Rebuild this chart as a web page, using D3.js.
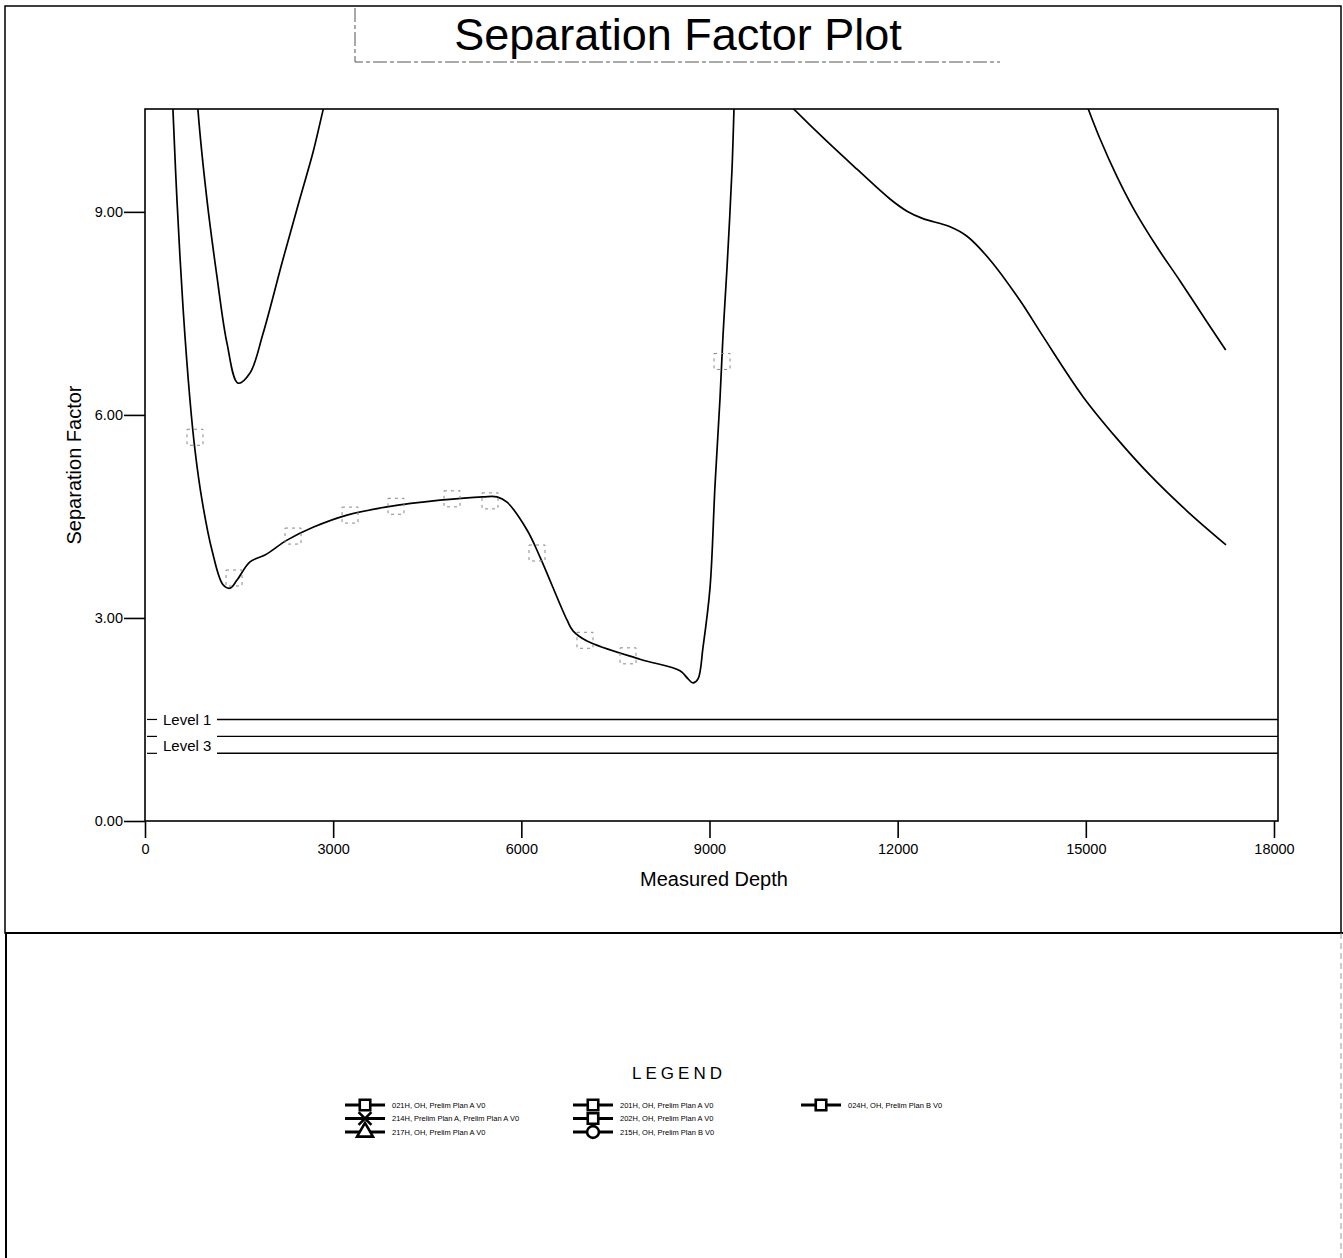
<!DOCTYPE html>
<html>
<head>
<meta charset="utf-8">
<script src="https://cdn.jsdelivr.net/npm/d3@7"></script>
<style>
  body { margin: 0; background: #fff; }
  svg { display: block; font-family: "Liberation Sans", Arial, sans-serif; }
</style>
</head>
<body>
<div id="chart"></div>
<script>
// Separation factor curves (measured depth, separation factor)
var depthA = [430, 446, 510, 606, 717, 797, 909, 1068, 1244, 1355, 1467, 1674, 1913, 2264, 2679, 3221, 3858, 4703, 5389, 5612, 5772, 6091, 6298, 6728, 6824, 7047, 7892, 8530, 8658, 8737, 8817, 8897, 9008, 9088, 9168, 9216, 9279, 9359, 9391, 9405];
var sfA    = [10.9, 10.5, 9.17, 7.59, 6.22, 5.48, 4.74, 4.00, 3.49, 3.44, 3.56, 3.83, 3.93, 4.15, 4.34, 4.52, 4.64, 4.74, 4.79, 4.79, 4.71, 4.30, 3.90, 2.97, 2.81, 2.66, 2.39, 2.22, 2.10, 2.04, 2.10, 2.57, 3.44, 4.96, 6.25, 7.18, 8.17, 9.63, 10.53, 10.9];

var depthB = [820, 845, 989, 1148, 1307, 1483, 1674, 1881, 2200, 2471, 2679, 2838, 2880];
var sfB    = [10.9, 10.5, 9.17, 8.04, 7.06, 6.47, 6.62, 7.20, 8.30, 9.20, 9.88, 10.5, 10.65];

var depthC = [14950, 15035, 15226, 15497, 15753, 16135, 16502, 16927, 17230];
var sfC    = [10.75, 10.53, 10.08, 9.52, 9.06, 8.48, 7.98, 7.38, 6.96];

var depthD = [10100, 10332, 10874, 11352, 11878, 12149, 12404, 12835, 13106, 13473, 13951, 14318, 14955, 15497, 16024, 16614, 17235];
var sfD    = [10.75, 10.53, 10.04, 9.63, 9.19, 9.01, 8.90, 8.78, 8.64, 8.29, 7.69, 7.16, 6.27, 5.65, 5.11, 4.58, 4.08];

// faint survey-point markers along the first curve
var markerDepth = [797, 1419, 2360, 3269, 4002, 4895, 5501, 6250, 7015, 7701, 9200];
var markerSF    = [5.67, 3.59, 4.21, 4.52, 4.65, 4.76, 4.73, 3.96, 2.67, 2.44, 6.79];

// warning levels
var levels = [1.5, 1.25, 1.0];
var levelLabels = ["Level 1", "", "Level 3"];

var xTicks = [0, 3000, 6000, 9000, 12000, 15000, 18000];
var yTicks = [0, 3, 6, 9];

var legendNames = [
  "021H, OH, Prelim Plan A V0",
  "214H, Prelim Plan A, Prelim Plan A V0",
  "217H, OH, Prelim Plan A V0",
  "201H, OH, Prelim Plan A V0",
  "202H, OH, Prelim Plan A V0",
  "215H, OH, Prelim Plan B V0",
  "024H, OH, Prelim Plan B V0"
];
var legendShapes = ["square", "cross", "triangle", "square", "square", "circle", "square"];

//Create chart space
var svgWidth = 1343;
var svgHeight = 1258;

var margin = { top: 109, right: 65, bottom: 437, left: 145 };
var width = svgWidth - margin.left - margin.right;
var height = svgHeight - margin.top - margin.bottom;

var svg = d3.select("#chart")
    .append("svg")
    .attr("width", svgWidth)
    .attr("height", svgHeight);

svg.append("rect")
    .attr("width", svgWidth)
    .attr("height", svgHeight)
    .attr("fill", "#fff");

// page frame
var page = svg.append("g").attr("stroke", "#000").attr("fill", "none");
page.append("rect")
    .attr("x", 5).attr("y", 6)
    .attr("width", 1336).attr("height", 927)
    .attr("stroke-width", 1.5);
page.append("line")
    .attr("x1", 5).attr("x2", 1343)
    .attr("y1", 933).attr("y2", 933)
    .attr("stroke-width", 2.2);
page.append("line")
    .attr("x1", 6).attr("x2", 6)
    .attr("y1", 933).attr("y2", 1258)
    .attr("stroke-width", 2);
page.append("line")
    .attr("x1", 1341).attr("x2", 1341)
    .attr("y1", 933).attr("y2", 1258)
    .attr("stroke", "#999")
    .attr("stroke-dasharray", "6,4")
    .attr("stroke-width", 1);

// title with its box
svg.append("path")
    .attr("d", "M355,8 L355,62 L1000,62")
    .attr("fill", "none")
    .attr("stroke", "#555")
    .attr("stroke-width", 1)
    .attr("stroke-dasharray", "14,3,4,3");

svg.append("text")
    .attr("x", 678)
    .attr("y", 50)
    .attr("text-anchor", "middle")
    .attr("font-size", 45)
    .text("Separation Factor Plot");

var chartGroup = svg.append("g")
    .attr("transform", `translate(${margin.left}, ${margin.top})`);

//Scale functions
var xLinearScale = d3.scaleLinear()
    .domain([0, 18064])
    .range([0, width]);

var yLinearScale = d3.scaleLinear()
    .domain([0, 10.52])
    .range([height, 0]);

//Axis functions
var bottomAxis = d3.axisBottom(xLinearScale)
    .tickValues(xTicks)
    .tickSize(17)
    .tickSizeOuter(0)
    .tickPadding(6)
    .tickFormat(d3.format("d"));
var leftAxis = d3.axisLeft(yLinearScale)
    .tickValues(yTicks)
    .tickSize(21)
    .tickSizeOuter(0)
    .tickPadding(1)
    .tickFormat(d3.format(".2f"));

var gx = chartGroup.append("g")
    .attr("transform", `translate(0, ${height})`)
    .call(bottomAxis);
var gy = chartGroup.append("g")
    .call(leftAxis);

[gx, gy].forEach(function(g) {
    g.select(".domain").remove();
    g.selectAll(".tick line").attr("stroke", "#000").attr("stroke-width", 1.6);
    g.selectAll(".tick text")
        .attr("fill", "#000")
        .attr("font-size", 14.5)
        .attr("font-family", "\"Liberation Sans\", Arial, sans-serif");
});

// plot frame
chartGroup.append("rect")
    .attr("width", width)
    .attr("height", height)
    .attr("fill", "none")
    .attr("stroke", "#000")
    .attr("stroke-width", 1.6);

// clip for curves
chartGroup.append("clipPath")
    .attr("id", "plotClip")
    .append("rect")
    .attr("width", width)
    .attr("height", height);

// warning level lines
var levelGroup = chartGroup.append("g");
levels.forEach(function(lv, i) {
    var yy = yLinearScale(lv);
    levelGroup.append("line")
        .attr("x1", 72).attr("x2", width)
        .attr("y1", yy).attr("y2", yy)
        .attr("stroke", "#000")
        .attr("stroke-width", 1.4);
    levelGroup.append("line")
        .attr("x1", 2).attr("x2", 12)
        .attr("y1", yy).attr("y2", yy)
        .attr("stroke", "#000")
        .attr("stroke-width", 1.2);
    if (levelLabels[i]) {
        levelGroup.append("text")
            .attr("x", 18)
            .attr("y", i === 0 ? yy : yy - 8)
            .attr("dy", "0.35em")
            .attr("font-size", 15)
            .text(levelLabels[i]);
    }
});

// curves
var curves = [
    [depthA, sfA],
    [depthB, sfB],
    [depthC, sfC],
    [depthD, sfD]
];

var line = d3.line()
    .x(d => xLinearScale(d[0]))
    .y(d => yLinearScale(d[1]))
    .curve(d3.curveCatmullRom.alpha(0.5));

var curveGroup = chartGroup.append("g").attr("clip-path", "url(#plotClip)");
curves.forEach(function(c) {
    var pts = c[0].map((d, i) => [d, c[1][i]]);
    curveGroup.append("path")
        .datum(pts)
        .attr("d", line)
        .attr("fill", "none")
        .attr("stroke", "#000")
        .attr("stroke-width", 1.7);
});

// faint markers
var markerData = markerDepth.map((d, i) => [d, markerSF[i]]);
curveGroup.selectAll("rect.marker")
    .data(markerData).enter()
    .append("rect")
    .attr("class", "marker")
    .attr("x", d => xLinearScale(d[0]) - 8)
    .attr("y", d => yLinearScale(d[1]) - 8)
    .attr("width", 16)
    .attr("height", 16)
    .attr("fill", "none")
    .attr("stroke", "#888")
    .attr("stroke-width", 1)
    .attr("stroke-dasharray", "3,4");

// Axis labels
svg.append("text")
    .attr("transform", "translate(81, 465) rotate(-90)")
    .attr("text-anchor", "middle")
    .attr("font-size", 20)
    .text("Separation Factor");

svg.append("text")
    .attr("x", 714)
    .attr("y", 886)
    .attr("text-anchor", "middle")
    .attr("font-size", 20)
    .text("Measured Depth");

// Legend
svg.append("text")
    .attr("x", 679)
    .attr("y", 1079)
    .attr("text-anchor", "middle")
    .attr("font-size", 17)
    .attr("letter-spacing", 4)
    .text("LEGEND");

var legend = svg.append("g");
legendNames.forEach(function(name, i) {
    var col = Math.floor(i / 3);
    var row = i % 3;
    var lx = 345 + col * 228;
    var ly = 1105 + row * 13.5;
    var g = legend.append("g").attr("transform", `translate(${lx}, ${ly})`);
    g.append("line")
        .attr("x1", 0).attr("x2", 40)
        .attr("y1", 0).attr("y2", 0)
        .attr("stroke", "#000")
        .attr("stroke-width", 3);
    var shape = legendShapes[i];
    var sym;
    if (shape === "square") sym = d3.symbol().type(d3.symbolSquare).size(110);
    else if (shape === "circle") sym = d3.symbol().type(d3.symbolCircle).size(110);
    else if (shape === "triangle") sym = d3.symbol().type(d3.symbolTriangle).size(110);
    else sym = d3.symbol().type(d3.symbolX).size(110);
    g.append("path")
        .attr("transform", "translate(20,0)")
        .attr("d", sym())
        .attr("fill", "#fff")
        .attr("stroke", "#000")
        .attr("stroke-width", 2.6);
    g.append("text")
        .attr("x", 47)
        .attr("y", 0)
        .attr("dy", "0.35em")
        .attr("font-size", 7.5)
        .text(name);
});
</script>
</body>
</html>
